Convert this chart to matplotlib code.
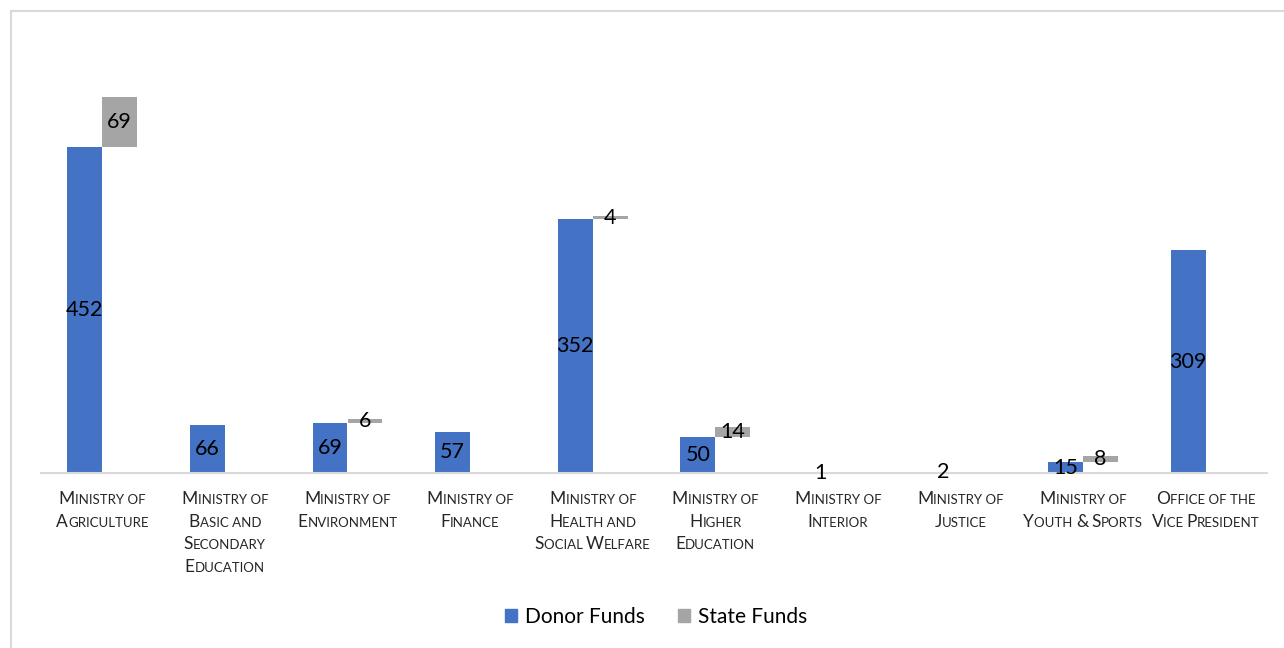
import matplotlib
matplotlib.use('Agg')
import numpy as np
import matplotlib.pyplot as plt
from matplotlib.patches import Rectangle
from matplotlib.offsetbox import TextArea, HPacker, VPacker, AnnotationBbox

plt.rcParams['font.family'] = ['Lato', 'DejaVu Sans']

ministries = [
    'Ministry of\nAgriculture',
    'Ministry of\nBasic and\nSecondary\nEducation',
    'Ministry of\nEnvironment',
    'Ministry of\nFinance',
    'Ministry of\nHealth and\nSocial Welfare',
    'Ministry of\nHigher\nEducation',
    'Ministry of\nInterior',
    'Ministry of\nJustice',
    'Ministry of\nYouth & Sports',
    'Office of the\nVice President',
]
donor_funds = [452, 66, 69, 57, 352, 50, 1, 2, 15, 309]
state_funds = [69, 0, 6, 0, 4, 14, 0, 0, 8, 0]

BLUE = '#4472C4'
GREY = '#A5A5A5'
TXT = '#000000'
LBL = '#262626'


def small_caps(label, big=12.5, small=9.5):
    # fake small caps: capitals stay full size, lowercase letters are upper-cased smaller
    rows = []
    for line in label.split('\n'):
        parts = []
        buf, buf_small = '', None
        for ch in line:
            is_small = ch.islower() or ch == ' '
            if buf_small is not None and is_small != buf_small:
                parts.append((buf, buf_small))
                buf = ''
            buf += ch.upper()
            buf_small = is_small
        if buf:
            parts.append((buf, buf_small))
        kids = [TextArea(t, textprops=dict(fontsize=small if s else big, color=LBL))
                for t, s in parts]
        rows.append(HPacker(children=kids, align='baseline', pad=0, sep=0))
    return VPacker(children=rows, align='center', pad=0, sep=4.8)


fig = plt.figure(figsize=(12.84, 6.48), dpi=100)
ax = fig.add_axes([41 / 1284, 1 - 473 / 648, 1226 / 1284, 433 / 648])

x = np.arange(len(ministries))
w = 0.285

ax.bar(x - w / 2, donor_funds, width=w, color=BLUE, zorder=2)
ax.bar(x + w / 2, state_funds, width=w, bottom=donor_funds, color=GREY, zorder=2)

for i, (d, s) in enumerate(zip(donor_funds, state_funds)):
    ax.text(i - w / 2, d / 2, str(d), ha='center', va='center', fontsize=15.5, color=TXT, zorder=3)
    if s:
        ax.text(i + w / 2, d + s / 2, str(s), ha='center', va='center', fontsize=15.5, color=TXT, zorder=3)

ax.set_xlim(-0.5, len(ministries) - 0.5)
ax.set_ylim(0, 600)
ax.set_yticks([])
ax.set_xticks([])
for side in ['top', 'right', 'left']:
    ax.spines[side].set_visible(False)
ax.spines['bottom'].set_color('#d9d9d9')
ax.spines['bottom'].set_linewidth(1.5)

for i, name in enumerate(ministries):
    ab = AnnotationBbox(small_caps(name), (i, 0), xybox=(0, -13), xycoords='data',
                        boxcoords='offset points', box_alignment=(0.5, 1),
                        frameon=False, annotation_clip=False)
    ax.add_artist(ab)

handles = [Rectangle((0, 0), 1, 1, color=BLUE), Rectangle((0, 0), 1, 1, color=GREY)]
fig.legend(handles, ['Donor Funds', 'State Funds'], loc='center',
           bbox_to_anchor=(656 / 1284, 1 - 617 / 648), ncol=2, frameon=False,
           fontsize=15, handlelength=0.6, handleheight=0.6, handletextpad=0.35,
           columnspacing=1.6)

# outer chart frame
fig.patches.append(Rectangle((11 / 1284, -0.2), 1.2, 1.2 - 11 / 648, transform=fig.transFigure,
                             fill=False, edgecolor='#d9d9d9', linewidth=1.5))

fig.savefig('out.png', dpi=100)
